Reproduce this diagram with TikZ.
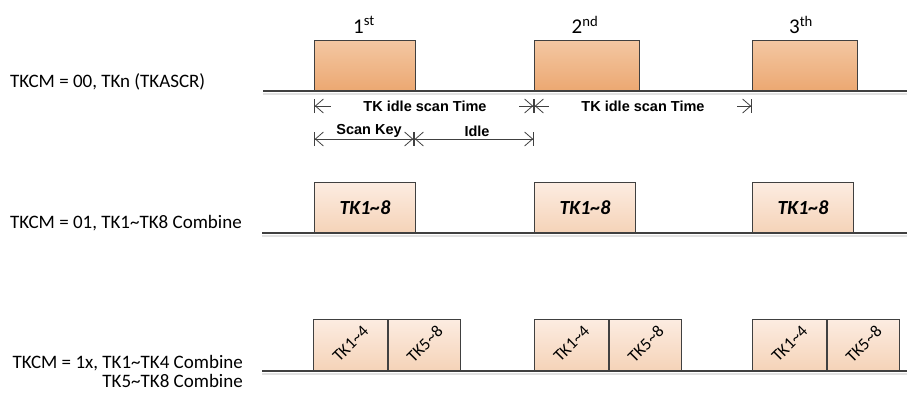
\documentclass[tikz,border=0pt]{standalone}
\usepackage{fontspec}
\setmainfont{Carlito}
\newfontfamily\dimfont{Liberation Sans}
\usetikzlibrary{arrows.meta}

\definecolor{edgegray}{HTML}{404040}
\definecolor{shadowgray}{HTML}{E2E2E2}
\definecolor{pulsetop}{HTML}{F3C7A2}
\definecolor{pulsebot}{HTML}{ECA872}
\definecolor{combtop}{HTML}{FCECE1}
\definecolor{combbot}{HTML}{F5D3B8}

\tikzset{
  baseline/.style={draw=edgegray, line width=1.4pt},
  baseshadow/.style={draw=shadowgray, line width=1.6pt},
  pulse/.style={draw=edgegray, line width=1.1pt, top color=pulsetop,
    bottom color=pulsebot, anchor=south west, inner sep=0pt,
    minimum height=50pt},
  combbox/.style={pulse, top color=combtop, bottom color=combbot},
  modelabel/.style={font=\fontsize{19}{19}\selectfont, inner sep=0pt},
  ordlabel/.style={font=\fontsize{21}{22}\selectfont, inner sep=0pt},
  dimlabel/.style={font=\dimfont\bfseries\fontsize{14.5}{16}\selectfont,
    inner sep=0pt},
  boxlabel/.style={font=\bfseries\itshape\fontsize{20}{22}\selectfont},
  halflabel/.style={rotate=45, inner sep=0pt, font=\fontsize{17}{18}\selectfont},
  dimline/.style={draw=edgegray, line width=0.8pt,
    {Bar[width=14pt]Straight Barb[length=8pt,width=14pt]}-{Straight Barb[length=8pt,width=14pt]Bar[width=14pt]}},
}

\begin{document}
\begin{tikzpicture}[x=1pt, y=-1pt]
  \useasboundingbox (0,0) rectangle (907,394);

  % TKCM = 00
  \node[modelabel, anchor=west] (m0) at (10, 82) {TKCM = 00, TKn (TKASCR)};
  \draw[baseshadow] (263, 94) -- (907, 94);
  \draw[baseline] (263, 91) -- (907, 91);
  \node[pulse, minimum width=101pt] (p1) at (314, 91) {};
  \node[pulse, minimum width=105pt] (p2) at (534, 91) {};
  \node[pulse, minimum width=105pt] (p3) at (752, 91) {};
  \node[ordlabel] (o1) at (364, 25) {1\textsuperscript{st}};
  \node[ordlabel] (o2) at (585, 25) {2\textsuperscript{nd}};
  \node[ordlabel] (o3) at (801, 25) {3\textsuperscript{th}};

  \coordinate (t1) at (314, 106);
  \coordinate (t2) at (534, 106);
  \coordinate (t3) at (752, 106);
  \draw[dimline] (t1) -- (t2);
  \draw[dimline] (t2) -- (t3);
  \node[dimlabel, fill=white, minimum width=188pt, minimum height=12pt]
    (i1) at (425, 106) {TK idle scan Time};
  \node[dimlabel, fill=white, minimum width=188pt, minimum height=12pt]
    (i2) at (643, 106) {TK idle scan Time};

  \coordinate (s1) at (314, 139);
  \coordinate (s2) at (414, 139);
  \coordinate (s3) at (534, 139);
  \draw[dimline] (s1) -- (s2);
  \draw[dimline] (s2) -- (s3);
  \node[dimlabel] (sk) at (369, 131) {Scan Key};
  \node[dimlabel] (id) at (477, 131) {Idle};

  % TKCM = 01
  \node[modelabel, anchor=west] (m1) at (10, 223) {TKCM = 01, TK1\textasciitilde TK8 Combine};
  \draw[baseshadow] (262, 236) -- (907, 236);
  \draw[baseline] (262, 233) -- (907, 233);
  \foreach \x/\n in {314/a, 534/b, 752/c}
    \node[combbox, minimum width=101pt] (k\n) at (\x, 233) {};
  \foreach \n in {a, b, c}
    \node[boxlabel] at (k\n.center) {TK1\textasciitilde 8};

  % TKCM = 1x
  \node[modelabel, anchor=east, align=right] (m2) at (243, 371)
    {TKCM = 1x, TK1\textasciitilde TK4 Combine\\TK5\textasciitilde TK8 Combine};
  \draw[baseshadow] (262, 374) -- (907, 374);
  \draw[baseline] (262, 371) -- (907, 371);
  \foreach \x/\n in {313/a, 534/b, 752/c} {
    \node[combbox, minimum width=74pt, minimum height=51pt] (lo\n) at (\x, 371) {};
    \node[combbox, minimum width=72pt, minimum height=51pt] (hi\n) at (lo\n.south east) {};
    \node[halflabel] at ([yshift=1pt]lo\n.center) {TK1\textasciitilde 4};
    \node[halflabel] at ([yshift=1pt]hi\n.center) {TK5\textasciitilde 8};
  }
\end{tikzpicture}
\end{document}
